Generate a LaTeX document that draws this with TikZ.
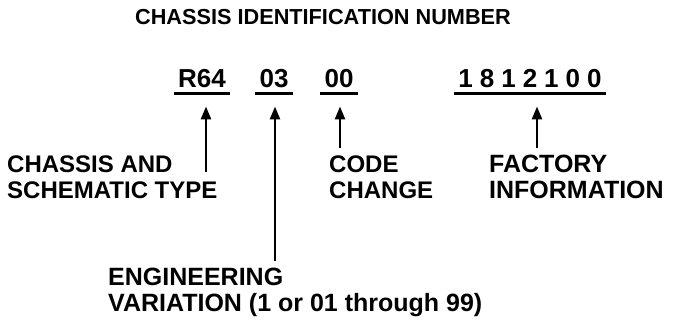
\documentclass[tikz,border=0pt]{standalone}
\usepackage{fontspec}
\setmainfont{Liberation Sans}
\usetikzlibrary{arrows.meta,calc}
\newcommand\digitgap{\hspace{0.27em}}

\begin{document}
\begin{tikzpicture}[x=1pt,y=-1pt,>={Triangle[length=13pt,width=10pt]},
  headtext/.style={font=\fontsize{21.7}{24}\selectfont\bfseries,anchor=base,inner sep=0pt},
  code/.style={font=\fontsize{26}{28}\selectfont\bfseries,anchor=base,inner xsep=4pt,inner ysep=5pt},
  desc/.style={font=\fontsize{24}{25.5}\selectfont\bfseries,align=left,anchor=base west,inner sep=0pt},
  bigdesc/.style={desc,font=\fontsize{25}{25.5}\selectfont\bfseries},
  underline/.style={line width=3pt},
  pointer/.style={->,line width=2.5pt}]
  \useasboundingbox (0,0) rectangle (674,323);
  % heading
  \node[headtext] (heading) at (323,25) {CHASSIS IDENTIFICATION NUMBER};
  % the four parts of the number
  \node[code] (r64) at (202,88) {R64};
  \node[code] (eng) at (274,88) {03};
  \node[code] (chg) at (339,88) {00};
  \node[code] (fac) at (530,88) {1\digitgap8\digitgap1\digitgap2\digitgap1\digitgap0\digitgap0};
  \foreach \n in {r64,eng,chg,fac}
    \draw[underline] (\n.south west) -- (\n.south east);
  % descriptions (base = last line)
  \node[desc] (typetext) at (7,198) {CHASSIS AND\\SCHEMATIC TYPE};
  \node[desc] (codetext) at (329,198) {CODE\\CHANGE};
  \node[bigdesc] (factext) at (489,198) {FACTORY\\INFORMATION};
  \node[bigdesc] (engtext) at (108,311) {ENGINEERING\\VARIATION (1 or 01 through 99)};
  % arrows
  \coordinate (typefoot) at (206,172);
  \coordinate (engfoot) at (275,261);
  \coordinate (codefoot) at (340,148);
  \coordinate (facfoot) at (537,148);
  \draw[pointer] (typefoot) -- ($(r64.south -| typefoot)+(0,13)$);
  \draw[pointer] (engfoot) -- ($(eng.south -| engfoot)+(0,13)$);
  \draw[pointer] (codefoot) -- ($(chg.south -| codefoot)+(0,13)$);
  \draw[pointer] (facfoot) -- ($(fac.south -| facfoot)+(0,13)$);
\end{tikzpicture}
\end{document}
